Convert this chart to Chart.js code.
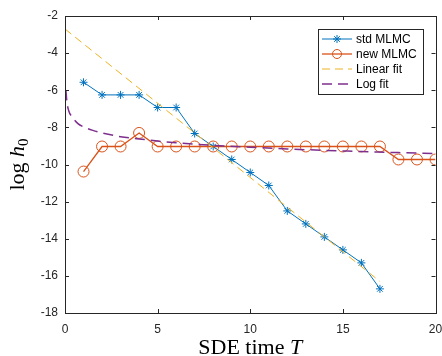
<!DOCTYPE html>
<html lang="en">
<head>
  <meta charset="UTF-8" />
  <title>log h0 vs SDE time</title>
  <script src="https://cdn.jsdelivr.net/npm/chart.js"></script>
  <style>
    body { margin: 0; background: #fff; }
    canvas { display: block; }
  </style>
</head>
<body>
  <canvas id="chart" width="442" height="356"></canvas>

  <script>
    // values
    const stdX = [1, 2, 3, 4, 5, 6, 7, 8, 9, 10, 11, 12, 13, 14, 15, 16, 17];
    const stdY = [-5.57, -6.25, -6.25, -6.25, -6.93, -6.93, -8.33, -9.03, -9.73, -10.43,
                  -11.13, -12.5, -13.2, -13.9, -14.6, -15.3, -16.7];

    const newX = [1, 2, 3, 4, 5, 6, 7, 8, 9, 10, 11, 12, 13, 14, 15, 16, 17, 18, 19, 20];
    const newY = [-10.38, -9.03, -9.03, -8.3, -9.03, -9.03, -9.03, -9.03, -9.03, -9.03,
                  -9.03, -9.03, -9.03, -9.03, -9.03, -9.03, -9.03, -9.73, -9.73, -9.73];

    const linX = [0, 17];
    const linY = [-2.7, -16.3];

    const logX = [0.05, 0.1, 0.2, 0.4, 0.7, 1, 1.5, 2, 3, 4, 5, 6, 8, 10, 12, 14, 16, 18, 20];
    const logY = [-6.0, -6.6, -7.1, -7.45, -7.8, -7.97, -8.16, -8.3, -8.5, -8.62, -8.74,
                  -8.83, -8.97, -9.07, -9.16, -9.24, -9.3, -9.36, -9.41];

    const xTicks = [0, 5, 10, 15, 20];
    const yTicks = [-18, -16, -14, -12, -10, -8, -6, -4, -2];

    const labels = ["std MLMC", "new MLMC", "Linear fit", "Log fit"];
    const colors = ["#0072BD", "#D95319", "#EDB120", "#7E2F8E"];

    const pts = (xs, ys) => xs.map((x, i) => ({ x: x, y: ys[i] }));

    const axisColor = "#262626";
    const sans = "'Liberation Sans', Arial, sans-serif";
    const serif = "'Liberation Serif', 'Times New Roman', serif";
    const linDash = [8, 5];
    const logDash = [10, 6];

    function drawStar(ctx, x, y, r) {
      ctx.beginPath();
      for (let k = 0; k < 4; k++) {
        const a = k * Math.PI / 4;
        ctx.moveTo(x - r * Math.cos(a), y - r * Math.sin(a));
        ctx.lineTo(x + r * Math.cos(a), y + r * Math.sin(a));
      }
      ctx.stroke();
    }

    const matlabLook = {
      id: "matlabLook",
      afterDraw(chart) {
        const { ctx, chartArea: a, scales } = chart;
        const sx = scales.x, sy = scales.y;
        ctx.save();

        // box with inward ticks
        ctx.strokeStyle = axisColor;
        ctx.lineWidth = 1;
        ctx.strokeRect(Math.round(a.left) + 0.5, Math.round(a.top) + 0.5,
                       Math.round(a.right - a.left), Math.round(a.bottom - a.top));
        ctx.beginPath();
        xTicks.forEach(v => {
          const px = Math.round(sx.getPixelForValue(v)) + 0.5;
          ctx.moveTo(px, a.bottom); ctx.lineTo(px, a.bottom - 4);
          ctx.moveTo(px, a.top); ctx.lineTo(px, a.top + 4);
        });
        yTicks.forEach(v => {
          const py = Math.round(sy.getPixelForValue(v)) + 0.5;
          ctx.moveTo(a.left, py); ctx.lineTo(a.left + 4, py);
          ctx.moveTo(a.right, py); ctx.lineTo(a.right - 4, py);
        });
        ctx.stroke();

        // x axis title: SDE time T
        ctx.fillStyle = "#000";
        ctx.textBaseline = "alphabetic";
        ctx.font = "22px " + serif;
        const p1 = "SDE time ";
        const w1 = ctx.measureText(p1).width;
        ctx.font = "italic 22px " + serif;
        const w2 = ctx.measureText("T").width;
        let tx = (a.left + a.right) / 2 - (w1 + w2) / 2;
        ctx.font = "22px " + serif;
        ctx.fillText(p1, tx, 354);
        ctx.font = "italic 22px " + serif;
        ctx.fillText("T", tx + w1, 354);

        // y axis title: log h_0
        ctx.save();
        ctx.translate(24, (a.top + a.bottom) / 2);
        ctx.rotate(-Math.PI / 2);
        ctx.font = "22px " + serif;
        const q1 = "log ";
        const lw1 = ctx.measureText(q1).width;
        ctx.font = "italic 22px " + serif;
        const lw2 = ctx.measureText("h").width;
        ctx.font = "15px " + serif;
        const lw3 = ctx.measureText("0").width;
        let ty = -(lw1 + lw2 + lw3) / 2;
        ctx.font = "22px " + serif;
        ctx.fillText(q1, ty, 0);
        ctx.font = "italic 22px " + serif;
        ctx.fillText("h", ty + lw1, 0);
        ctx.font = "15px " + serif;
        ctx.fillText("0", ty + lw1 + lw2, 4);
        ctx.restore();

        // legend box
        const lx = 318, ly = 29, lw = 105, lh = 65;
        ctx.fillStyle = "#fff";
        ctx.fillRect(lx, ly, lw, lh);
        ctx.strokeStyle = axisColor;
        ctx.lineWidth = 1;
        ctx.strokeRect(lx + 0.5, ly + 0.5, lw, lh);
        const rows = [39, 54, 69, 84];
        ctx.font = "12px " + sans;
        ctx.textBaseline = "middle";
        labels.forEach((lab, i) => {
          const yy = rows[i];
          ctx.strokeStyle = colors[i];
          ctx.beginPath();
          if (i >= 2) {
            ctx.lineWidth = i === 3 ? 1.5 : 1;
            ctx.setLineDash(i === 3 ? logDash : linDash);
          } else {
            ctx.lineWidth = i === 1 ? 1.3 : 1;
            ctx.setLineDash([]);
          }
          ctx.moveTo(322, yy); ctx.lineTo(352, yy);
          ctx.stroke();
          ctx.setLineDash([]);
          if (i === 0) { ctx.lineWidth = 1; drawStar(ctx, 337, yy, 4); }
          if (i === 1) {
            ctx.lineWidth = 1;
            ctx.beginPath(); ctx.arc(337, yy, 4.5, 0, Math.PI * 2); ctx.stroke();
          }
          ctx.fillStyle = "#000";
          ctx.fillText(lab, 356, yy + 1);
        });

        ctx.restore();
      }
    };

    new Chart(document.getElementById("chart"), {
      type: "scatter",
      data: {
        datasets: [
          {
            label: labels[3], data: pts(logX, logY), showLine: true,
            borderColor: colors[3], borderWidth: 1.5, borderDash: logDash,
            pointRadius: 0, cubicInterpolationMode: "monotone"
          },
          {
            label: labels[2], data: pts(linX, linY), showLine: true,
            borderColor: colors[2], borderWidth: 1, borderDash: linDash,
            pointRadius: 0
          },
          {
            label: labels[1], data: pts(newX, newY), showLine: true,
            borderColor: colors[1], borderWidth: 1.3,
            pointStyle: "circle", pointRadius: 5.5, pointBorderWidth: 1,
            pointBorderColor: colors[1], pointBackgroundColor: "rgba(0,0,0,0)"
          },
          {
            label: labels[0], data: pts(stdX, stdY), showLine: true,
            borderColor: colors[0], borderWidth: 1,
            pointStyle: "star", pointRadius: 4, pointBorderWidth: 1,
            pointBorderColor: colors[0], pointBackgroundColor: colors[0]
          }
        ]
      },
      options: {
        responsive: false,
        animation: false,
        devicePixelRatio: 1,
        layout: { padding: { top: 16, right: 6, left: 0, bottom: 0 } },
        plugins: { legend: { display: false }, tooltip: { enabled: false } },
        scales: {
          x: {
            type: "linear", min: 0, max: 20,
            afterBuildTicks: s => { s.ticks = xTicks.map(v => ({ value: v })); },
            afterFit: s => { s.height = 43; s.paddingLeft = 0; s.paddingRight = 0; },
            grid: { display: false, drawTicks: false },
            border: { display: false },
            ticks: { color: axisColor, font: { family: sans, size: 12 }, padding: 9, maxRotation: 0 }
          },
          y: {
            type: "linear", min: -18, max: -2,
            afterBuildTicks: s => { s.ticks = yTicks.map(v => ({ value: v })); },
            afterFit: s => { s.width = 65; s.paddingTop = 0; s.paddingBottom = 0; },
            grid: { display: false, drawTicks: false },
            border: { display: false },
            ticks: { color: axisColor, font: { family: sans, size: 12 }, padding: 7 }
          }
        }
      },
      plugins: [matlabLook]
    });
  </script>
</body>
</html>
